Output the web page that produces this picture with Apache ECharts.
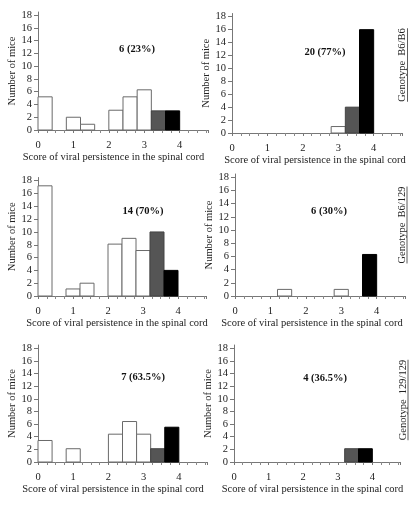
<!DOCTYPE html>
<html><head><meta charset="utf-8">
<script src="https://cdn.jsdelivr.net/npm/echarts@6/dist/echarts.min.js"></script>
<style>html,body{margin:0;padding:0;background:#fff}#c{width:420px;height:508px}</style>
</head><body><div id="c"></div>
<script>
// ---- data ----
const binStarts = [0, 0.4, 0.8, 1.2, 1.6, 2.0, 2.4, 2.8, 3.2, 3.6];
const binWidth = 0.4;
// 0 = no persistence (white), 1 = intermediate (gray), 2 = high (black)
const binShade = [0, 0, 0, 0, 0, 0, 0, 0, 1, 2];
const b6b6Left    = [5.2, 0, 2.0, 0.9, 0, 3.1, 5.2, 6.3, 3.0, 3.0];
const b6b6Right   = [0, 0, 0, 0, 0, 0, 0, 1.0, 4.0, 16.0];
const b6129Left   = [17.2, 0, 1.1, 2.0, 0, 8.1, 9.0, 7.1, 10.0, 4.0];
const b6129Right  = [0, 0, 0, 1.0, 0, 0, 0, 1.0, 0, 6.3];
const c129Left    = [3.4, 0, 2.1, 0, 0, 4.4, 6.4, 4.4, 2.1, 5.5];
const c129Right   = [0, 0, 0, 0, 0, 0, 0, 0, 2.1, 2.1];
const yTickValues = [0, 2, 4, 6, 8, 10, 12, 14, 16, 18];
const xTickValues = [0, 1, 2, 3, 4];
const persistLabels = ['6 (23%)', '20 (77%)', '14 (70%)', '6 (30%)', '7 (63.5%)', '4 (36.5%)'];
const genotypes = ['Genotype  B6/B6', 'Genotype  B6/129', 'Genotype  129/129'];
const yTitle = 'Number of mice';
const xTitle = 'Score of viral persistence in the spinal cord';

// ---- layout / style ----
const panelSeries = [b6b6Left, b6b6Right, b6129Left, b6129Right, c129Left, c129Right];
const grids = [
  {left: 38, top: 12, width: 170, height: 118},
  {left: 232, top: 13.5, width: 170, height: 119.5},
  {left: 38, top: 177.5, width: 168, height: 118.5},
  {left: 235, top: 174, width: 170, height: 122},
  {left: 38, top: 345, width: 169, height: 117},
  {left: 234, top: 345, width: 166, height: 117}
];
const titleShift = [9.5, 2, 5, 8, 9.5, 4.5];
const annPos = [[137, 49], [325, 52], [143, 211], [329, 211], [143, 377], [325, 378]];
const genoPos = [[402.5, 65], [402, 225], [403, 400]];
const FONT = '"Liberation Serif", "Times New Roman", serif';
const GENO_FONT = '10.5px ' + FONT;
const fills = ['#ffffff', '#555555', '#000000'];
const strokes = ['#6a6a6a', '#444444', '#000000'];

const measureCtx = document.createElement('canvas').getContext('2d');
function textWidth(t, font) { measureCtx.font = font; return measureCtx.measureText(t).width; }

const option = {
  animation: false,
  backgroundColor: '#fff',
  grid: grids.map(g => Object.assign({containLabel: false}, g)),
  xAxis: grids.map((g, i) => ({
    type: 'value', gridIndex: i, min: 0, max: 4.8, interval: 1,
    name: xTitle, nameLocation: 'middle', nameGap: 15,
    nameTextStyle: {fontFamily: FONT, fontSize: 10.5, color: '#222',
      padding: [0, 2 * titleShift[i], 0, 0]},
    axisLine: {show: true, lineStyle: {color: '#777', width: 1}},
    axisTick: {show: true, length: 3, lineStyle: {color: '#777'}},
    minorTick: {show: true, splitNumber: 4, length: 3, lineStyle: {color: '#888'}},
    axisLabel: {fontFamily: FONT, fontSize: 10.5, color: '#222', margin: 10,
      customValues: xTickValues},
    splitLine: {show: false}
  })),
  yAxis: grids.map((g, i) => ({
    type: 'value', gridIndex: i, min: 0, max: 18.5, interval: 2,
    name: yTitle, nameLocation: 'middle', nameGap: 19, nameRotate: 90,
    nameTextStyle: {fontFamily: FONT, fontSize: 10.5, color: '#222'},
    axisLine: {show: true, lineStyle: {color: '#777', width: 1}},
    axisTick: {show: true, length: 4, lineStyle: {color: '#777'}, customValues: yTickValues},
    axisLabel: {fontFamily: FONT, fontSize: 10.5, color: '#222', margin: 6,
      customValues: yTickValues},
    splitLine: {show: false}
  })),
  series: panelSeries.map((vals, i) => ({
    type: 'custom', xAxisIndex: i, yAxisIndex: i,
    data: binStarts.map((s, k) => [s, s + binWidth, vals[k], binShade[k]]).filter(d => d[2] > 0),
    renderItem: function (params, api) {
      const p0 = api.coord([api.value(0), api.value(2)]);
      const p1 = api.coord([api.value(1), 0]);
      const shade = api.value(3);
      return {
        type: 'rect',
        shape: {x: p0[0], y: p0[1], width: p1[0] - p0[0], height: p1[1] - p0[1]},
        style: {fill: fills[shade], stroke: strokes[shade], lineWidth: 1}
      };
    }
  })),
  graphic: [].concat(
    persistLabels.map((t, i) => ({
      type: 'text', x: annPos[i][0], y: annPos[i][1],
      style: {text: t, align: 'center', verticalAlign: 'middle',
        font: 'bold 10.5px ' + FONT, fill: '#111'}
    })),
    genotypes.map((t, i) => ({
      type: 'text', x: genoPos[i][0], y: genoPos[i][1], rotation: Math.PI / 2,
      style: {text: t, x: 0, y: 0, align: 'center', verticalAlign: 'middle',
        font: GENO_FONT, fill: '#222'}
    })),
    genotypes.map((t, i) => {
      const half = textWidth(t, GENO_FONT) / 2;
      return {
        type: 'line',
        shape: {x1: genoPos[i][0] + 5, y1: genoPos[i][1] - half, x2: genoPos[i][0] + 5, y2: genoPos[i][1] + half},
        style: {stroke: '#333', lineWidth: 0.8}
      };
    })
  )
};
const chart = echarts.init(document.getElementById('c'), null, {renderer: 'canvas'});
chart.setOption(option);
</script></body></html>
